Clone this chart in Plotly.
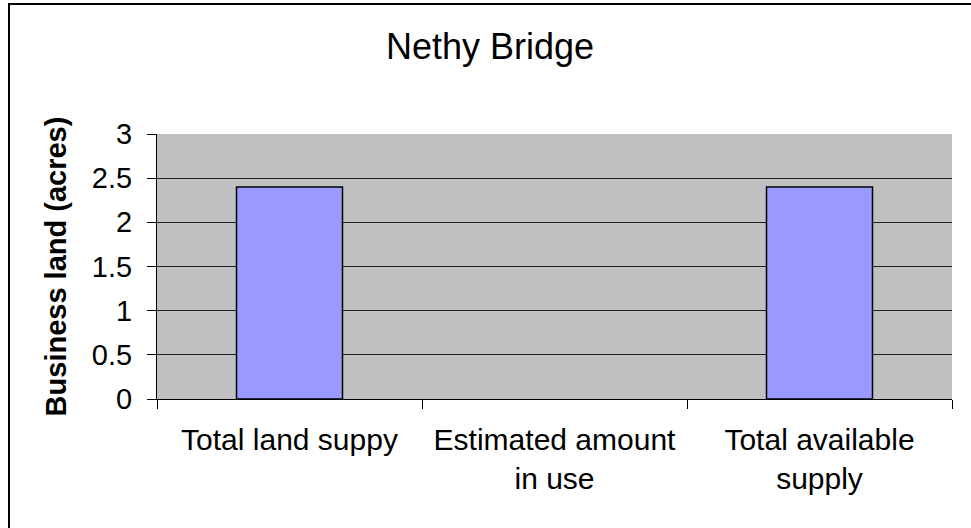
import plotly.graph_objects as go

categories = ["Total land suppy", "Estimated amount<br>in use", "Total available<br>supply"]
values = [2.4, 0, 2.4]
title_text = "Nethy Bridge"
y_title = "Business land (acres)"

W, H = 971, 528
L, T = 157, 134
R = W - 952
B = H - 399
pw, ph = W - L - R, H - T - B

fig = go.Figure(go.Bar(
    x=categories, y=values, width=0.4,
    marker=dict(color="#9999FF",
                line=dict(color="#000000", width=[1.5 if v > 0 else 0 for v in values])),
))

font = "Liberation Sans, Arial, sans-serif"
fig.update_layout(
    width=W, height=H,
    margin=dict(l=L, r=R, t=T, b=B, autoexpand=False),
    paper_bgcolor="white", plot_bgcolor="#C0C0C0",
    font=dict(family=font, color="black"),
    showlegend=False,
    title=dict(text=title_text, font=dict(size=36, family=font, color="black"),
               x=490 / W, xref="container", xanchor="center",
               y=1 - 46 / H, yref="container", yanchor="middle"),
    xaxis=dict(type="category", range=[-0.5, 2.5], showgrid=False,
               showline=True, linecolor="black", linewidth=1,
               ticks="outside", tickson="boundaries", ticklen=9, tickcolor="black",
               ticklabelstandoff=14,
               tickfont=dict(size=30, family=font, color="black")),
    yaxis=dict(range=[0, 3], dtick=0.5, showgrid=True, gridcolor="#202020", gridwidth=1,
               showline=True, linecolor="black", linewidth=1,
               ticks="outside", ticklen=9, tickcolor="black",
               ticklabelstandoff=9,
               tickfont=dict(size=29, family=font, color="black"),
               title=dict(text="<b>" + y_title + "</b>", font=dict(size=29, family=font, color="black"),
                          standoff=16),
               zeroline=False),
    shapes=[dict(type="rect", xref="paper", yref="paper",
                 x0=(9 - L) / pw, x1=(W + 10 - L) / pw,
                 y0=(T + ph - H - 10) / ph, y1=(T + ph - 4) / ph,
                 line=dict(color="black", width=2), fillcolor="rgba(0,0,0,0)")],
)

fig.write_html("out.html", config={"displayModeBar": False},
               post_script="document.body.style.margin='0';document.body.style.overflow='hidden';")
